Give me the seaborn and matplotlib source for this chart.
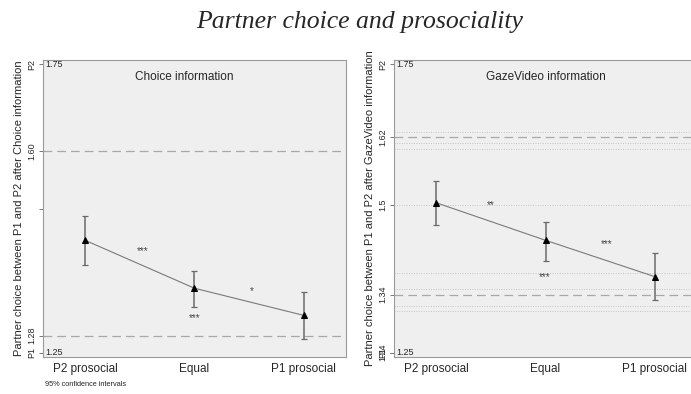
import numpy as np
import pandas as pd
import matplotlib
matplotlib.use("Agg")
import matplotlib.pyplot as plt
import seaborn as sns

categories = ["P2 prosocial", "Equal", "P1 prosocial"]

# Choice information panel
choice_mean = [1.445, 1.362, 1.315]
choice_lo = [1.402, 1.330, 1.274]
choice_hi = [1.487, 1.392, 1.356]
choice_ref = [1.60, 1.28]
choice_ticks = [1.75, 1.60, 1.50, 1.28, 1.25]
choice_ticklabels = ["P2", "1.60", "", "1.28", "P1"]
choice_stars = ["***", "***", "*"]
choice_star_x = [0.53, 1.0, 1.52]
choice_star_y = [1.426, 1.310, 1.357]

# GazeVideo information panel
gaze_mean = [1.510, 1.445, 1.382]
gaze_lo = [1.471, 1.410, 1.341]
gaze_hi = [1.548, 1.477, 1.423]
gaze_ref = [1.624, 1.351]
gaze_dotted = [1.632, 1.613, 1.603, 1.506, 1.389, 1.360, 1.332, 1.322]
gaze_ticks = [1.75, 1.624, 1.506, 1.351, 1.25, 1.2505]
gaze_ticklabels = ["P2", "1.62", "1.5", "1.34", "P1", "1.24"]
gaze_stars = ["**", "***", "***"]
gaze_star_x = [0.50, 1.56, 0.99]
gaze_star_y = [1.506, 1.438, 1.381]

sns.set_theme(style="white")
plt.rcParams['font.family'] = ['Liberation Sans', 'DejaVu Sans']

fig = plt.figure(figsize=(6.91, 3.94), dpi=100)
ax1 = fig.add_axes([0.0622, 0.0939, 0.4385, 0.7538])
ax2 = fig.add_axes([0.5702, 0.0939, 0.4385, 0.7538])

panels = [
    (ax1, "Choice information", choice_mean, choice_lo, choice_hi, choice_ref, [],
     choice_ticks, choice_ticklabels, choice_stars, choice_star_x, choice_star_y, 0.91),
    (ax2, "GazeVideo information", gaze_mean, gaze_lo, gaze_hi, gaze_ref, gaze_dotted,
     gaze_ticks, gaze_ticklabels, gaze_stars, gaze_star_x, gaze_star_y, 1.0),
]

for (ax, title, mean, lo, hi, ref, dotted, ticks, tlabels, stars, sx, sy, tx) in panels:
    ax.set_facecolor("#efefef")
    for s in ax.spines.values():
        s.set_color("#9a9a9a")
        s.set_linewidth(0.8)
    x = np.arange(len(categories))
    df = pd.DataFrame({"x": x, "y": mean})
    for d in dotted:
        ax.axhline(d, color="#c4c4c4", lw=0.7, ls=(0, (1, 1.5)), zorder=1)
    for r in ref:
        ax.axhline(r, color="#a8a8a8", lw=0.9, ls=(0, (7, 4)), zorder=1)
    mean_a = np.array(mean)
    err = np.vstack([mean_a - np.array(lo), np.array(hi) - mean_a])
    ax.errorbar(x, mean, yerr=err, fmt="none", ecolor="#6a6a6a", elinewidth=1.1,
                capsize=2.5, capthick=0.9, zorder=2)
    sns.lineplot(data=df, x="x", y="y", ax=ax, color="#7a7a7a", lw=0.8,
                 marker="^", markersize=5, markerfacecolor="black",
                 markeredgecolor="black", zorder=3)
    for st, a, b in zip(stars, sx, sy):
        ax.text(a, b, st, ha="center", va="center", fontsize=7, color="#444444")
    ax.set_xlim(-0.385, 2.385)
    ax.set_ylim(1.243, 1.757)
    ax.set_xticks(x)
    ax.set_xticklabels(categories, fontsize=8.5)
    ax.set_yticks(ticks)
    ax.set_yticklabels(tlabels, fontsize=6.5, rotation=90, va="center")
    ax.tick_params(axis="y", left=True, length=3, width=0.7, color="#777777", pad=2)
    ax.tick_params(axis="x", bottom=False, pad=-2)
    ax.set_xlabel("")
    ax.text(tx, 1.727, title, ha="center", va="center", fontsize=8.5)
    ax.text(-0.36, 1.75, "1.75", ha="left", va="center", fontsize=6.5)
    ax.text(-0.36, 1.25, "1.25", ha="left", va="center", fontsize=6.5)

ax1.set_ylabel("Partner choice between P1 and P2 after Choice information", fontsize=8, labelpad=2)
ax2.set_ylabel("Partner choice between P1 and P2 after GazeVideo information", fontsize=8, labelpad=2)

fig.text(45 / 691, 1 - 385 / 394, "95% confidence intervals", fontsize=5.3,
         ha="left", va="center")
fig.text(0.52, 0.944, "Partner choice and prosociality", fontsize=18.5, style="italic",
         family=["Liberation Serif", "DejaVu Serif"], ha="center", va="center")

fig.savefig("out.png", dpi=100)
